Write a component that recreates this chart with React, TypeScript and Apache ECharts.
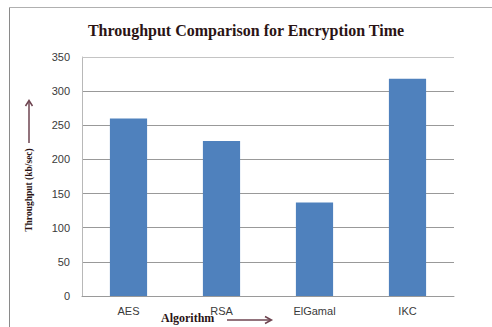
import React, { useEffect, useRef } from "react";
import * as echarts from "echarts";

const categories = ["AES", "RSA", "ElGamal", "IKC"];
const throughput = [260, 227, 137, 318];
const yTicks = [0, 50, 100, 150, 200, 250, 300, 350];

const serif = "'Liberation Serif', 'DejaVu Serif', serif";
const sans = "'Liberation Sans', 'DejaVu Sans', sans-serif";
const arrowColor = "#6e4450";

export default function App() {
  const ref = useRef<HTMLDivElement>(null);

  useEffect(() => {
    if (!ref.current) return;
    const chart = echarts.init(ref.current, null, { renderer: "svg" });
    chart.setOption({
      animation: false,
      backgroundColor: "#ffffff",
      title: {
        text: "Throughput Comparison for Encryption Time",
        left: "center",
        top: 17,
        textStyle: {
          fontFamily: serif,
          fontWeight: "bold",
          fontSize: 16,
          color: "#2b1414",
        },
      },
      grid: { left: 82, right: 38, top: 57, bottom: 31 },
      xAxis: {
        type: "category",
        data: categories,
        axisLine: { lineStyle: { color: "#9a9a9a", width: 1 } },
        axisTick: { show: false },
        axisLabel: {
          fontFamily: sans,
          fontSize: 11,
          color: "#3a3a3a",
          margin: 9,
        },
      },
      yAxis: {
        type: "value",
        min: yTicks[0],
        max: yTicks[yTicks.length - 1],
        interval: 50,
        axisLine: { show: true, lineStyle: { color: "#b8b8b8" } },
        axisTick: { show: false },
        axisLabel: {
          fontFamily: sans,
          fontSize: 11,
          color: "#3a3a3a",
          margin: 12,
        },
        splitLine: { lineStyle: { color: "#999999", width: 1 } },
      },
      series: [
        {
          type: "bar",
          data: throughput,
          barWidth: "40%",
          itemStyle: { color: "#4f81bd" },
        },
      ],
      graphic: [
        // outer frame, top and left edges
        {
          type: "line",
          shape: { x1: 9.5, y1: 7.5, x2: 492, y2: 7.5 },
          style: { stroke: "#b0b0b0", lineWidth: 1 },
        },
        {
          type: "line",
          shape: { x1: 9.5, y1: 7.5, x2: 9.5, y2: 327 },
          style: { stroke: "#8a8a8a", lineWidth: 1 },
        },
        // lighter top edge of the plot area
        {
          type: "line",
          z: 10,
          shape: { x1: 82, y1: 57.5, x2: 454, y2: 57.5 },
          style: { stroke: "#c4c4c4", lineWidth: 1 },
        },
        // y-axis name and upward arrow
        {
          type: "text",
          x: 29,
          y: 190,
          rotation: Math.PI / 2,
          style: {
            text: "Throughput (kb/sec)",
            fontFamily: serif,
            fontWeight: "bold",
            fontSize: 9.5,
            fill: "#2b1414",
            align: "center",
            verticalAlign: "middle",
          },
        },
        {
          type: "line",
          shape: { x1: 29, y1: 143, x2: 29, y2: 101 },
          style: { stroke: arrowColor, lineWidth: 1.5 },
        },
        {
          type: "polyline",
          shape: { points: [[25.5, 106], [29, 100.5], [32.5, 106]] },
          style: { stroke: arrowColor, lineWidth: 1.5, fill: "none" },
        },
        // x-axis name and rightward arrow
        {
          type: "text",
          x: 161,
          y: 318,
          style: {
            text: "Algorithm",
            fontFamily: serif,
            fontWeight: "bold",
            fontSize: 12,
            fill: "#2b1414",
            align: "left",
            verticalAlign: "middle",
          },
        },
        {
          type: "line",
          shape: { x1: 227, y1: 320, x2: 271, y2: 320 },
          style: { stroke: arrowColor, lineWidth: 1.5 },
        },
        {
          type: "polyline",
          shape: { points: [[265, 316.5], [271.5, 320], [265, 323.5]] },
          style: { stroke: arrowColor, lineWidth: 1.5, fill: "none" },
        },
      ],
    });
    return () => chart.dispose();
  }, []);

  return (
    <div
      ref={ref}
      style={{ position: "absolute", left: 0, top: 0, width: 492, height: 327 }}
    />
  );
}
